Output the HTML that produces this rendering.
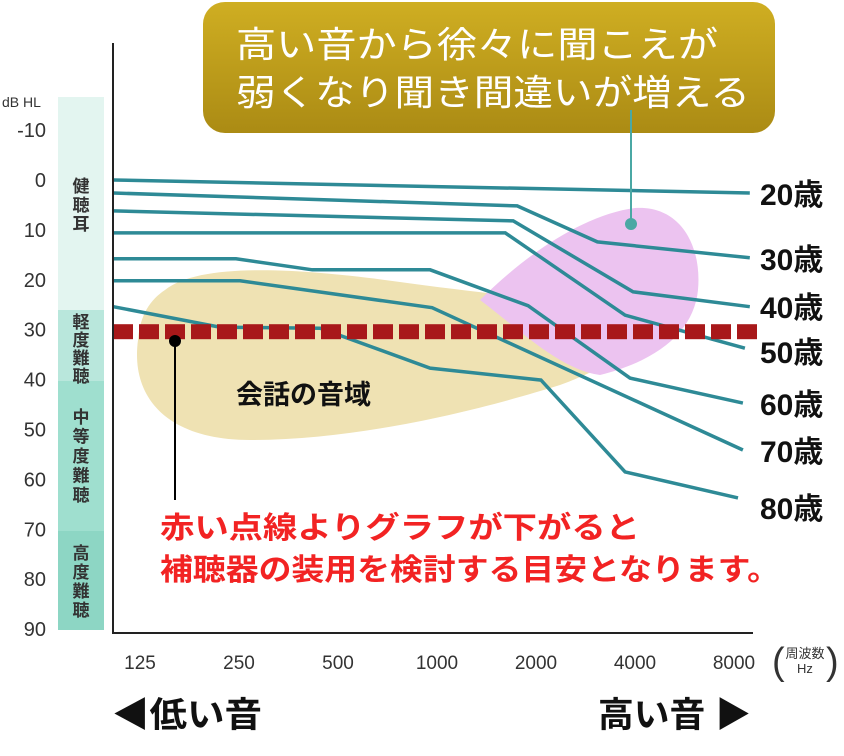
<!DOCTYPE html>
<html><head><meta charset="utf-8"><style>
html,body{margin:0;padding:0;background:#fff;}
body{width:844px;height:751px;overflow:hidden;}
text{font-family:"Liberation Sans","Noto Sans CJK JP",sans-serif;}
</style></head><body>
<svg id="chart" width="844" height="751" viewBox="0 0 844 751" xmlns="http://www.w3.org/2000/svg">
<defs><linearGradient id="gold" x1="0" y1="0" x2="0" y2="1"><stop offset="0" stop-color="#cfae22"/><stop offset="1" stop-color="#ab8b14"/></linearGradient></defs>
<g>
<rect x="58" y="97" width="46" height="213" fill="#e3f5f0"/>
<rect x="58" y="310" width="46" height="71" fill="#b9e7dc"/>
<rect x="58" y="381" width="46" height="150" fill="#9fdfcf"/>
<rect x="58" y="531" width="46" height="99" fill="#8dd6c4"/>
</g>
<g id="bandlabels"></g>
<path d="M165,290 C200,262 300,268 400,282 C470,292 560,300 620,312 C660,325 630,360 560,385 C480,410 360,440 250,440 C170,440 130,400 138,340 C140,315 150,300 165,290 Z" fill="#efe2b3"/>
<path d="M480,300 C520,260 580,215 635,208 C680,205 702,245 698,290 C694,330 660,360 600,375 C560,370 520,330 480,300 Z" fill="#ecc3f0"/>
<text x="236" y="404" font-size="27" font-weight="bold" fill="#111">会話の音域</text>
<g id="yticks"></g>
<text x="2" y="107" font-size="14" fill="#333">dB HL</text>
<g id="xticks"></g>
<g id="lines"></g>
<g id="dash"></g>
<line x1="113" y1="43" x2="113" y2="633" stroke="#222" stroke-width="2"/>
<line x1="112" y1="633" x2="753" y2="633" stroke="#222" stroke-width="2"/>
<circle cx="175" cy="341" r="6" fill="#000"/>
<line x1="175" y1="341" x2="175" y2="500" stroke="#000" stroke-width="2"/>
<text x="160" y="538" font-size="30" font-weight="bold" fill="#f22323" textLength="480" lengthAdjust="spacingAndGlyphs">赤い点線よりグラフが下がると</text>
<text x="160" y="580" font-size="30" font-weight="bold" fill="#f22323" textLength="620" lengthAdjust="spacingAndGlyphs">補聴器の装用を検討する目安となります。</text>
<rect x="203" y="2" width="572" height="131" rx="22" fill="url(#gold)"/>
<text x="236" y="57" font-size="36" fill="#fff" textLength="482" lengthAdjust="spacingAndGlyphs">高い音から徐々に聞こえが</text>
<text x="236" y="105" font-size="36" fill="#fff" textLength="514" lengthAdjust="spacingAndGlyphs">弱くなり聞き間違いが増える</text>
<line x1="631" y1="110" x2="631" y2="224" stroke="#4aa8a4" stroke-width="2"/>
<circle cx="631" cy="224" r="6" fill="#4aa8a4"/>
<text x="805" y="658" font-size="13" fill="#333" text-anchor="middle">周波数</text>
<text x="805" y="673" font-size="13" fill="#333" text-anchor="middle">Hz</text>
<text x="772" y="674" font-size="38" fill="#333">(</text>
<text x="826" y="674" font-size="38" fill="#333">)</text>
<text x="112" y="727" font-size="35" font-weight="bold" fill="#111" textLength="150" lengthAdjust="spacingAndGlyphs">◀低い音</text>
<text x="598" y="727" font-size="35" font-weight="bold" fill="#111" textLength="153" lengthAdjust="spacingAndGlyphs">高い音 ▶</text>
</svg>
<script>
const yTickLabels = ["-10","0","10","20","30","40","50","60","70","80","90"];
const yTickValues = [-10,0,10,20,30,40,50,60,70,80,90];
const xTickLabels = ["125","250","500","1000","2000","4000","8000"];
const ageLabels = ["20歳","30歳","40歳","50歳","60歳","70歳","80歳"];
// octave index (0 = 125Hz) and dB HL per age line
const age20x = [-0.27, 6.16];
const age20y = [0, 2.6];
const age30x = [-0.27, 3.81, 4.62, 6.16];
const age30y = [2.6, 5.2, 12.4, 15.6];
const age40x = [-0.27, 3.77, 4.98, 6.16];
const age40y = [6.2, 8.2, 22.4, 25.4];
const age50x = [-0.27, 3.69, 4.9, 6.11];
const age50y = [10.6, 10.6, 27.1, 33.7];
const age60x = [-0.27, 0.97, 1.74, 2.93, 3.92, 4.95, 6.09];
const age60y = [15.8, 15.8, 18, 18, 25.2, 39.7, 44.7];
const age70x = [-0.27, 1.01, 2.95, 6.09];
const age70y = [20.2, 20.2, 25.6, 54.1];
const age80x = [-0.27, 0.81, 1.82, 2.93, 4.05, 4.9, 6.04];
const age80y = [25.4, 29.5, 29.7, 37.7, 40.1, 58.5, 63.7];
const thresholdDb = 30.3;
const ageLabelY = [193, 258, 306, 351, 403, 450, 507];
const bandTexts = ["健聴耳","軽度難聴","中等度難聴","高度難聴"];
const bandStartY = [186, 322, 417, 553];
const bandStep = [19, 18, 19.5, 19];

const NS = "http://www.w3.org/2000/svg";
const yScale = d => 180 + d * 4.99;
const xScale = i => 140 + i * 99;
function mk(tag, attrs, parent){const e=document.createElementNS(NS,tag);for(const k in attrs)e.setAttribute(k,attrs[k]);parent.appendChild(e);return e;}

const bl = document.getElementById('bandlabels');
bandTexts.forEach((s,k)=>{
  [...s].forEach((ch,j)=>{
    const t = mk('text',{x:81,y:bandStartY[k]+j*bandStep[k]+6,'font-size':17,'font-weight':'bold',fill:'#333','text-anchor':'middle'},bl);
    
    
    t.textContent = ch;
  });
});
const yt = document.getElementById('yticks');
yTickValues.forEach((v,i)=>{
  const t = mk('text',{x:46,y:yScale(v)+7,'font-size':20,fill:'#333','text-anchor':'end'},yt);
  
  
  t.textContent = yTickLabels[i];
});
const xt = document.getElementById('xticks');
xTickLabels.forEach((l,i)=>{
  const t = mk('text',{x:xScale(i),y:669,'font-size':19,fill:'#333','text-anchor':'middle'},xt);
  
  
  t.textContent = l;
});
const lg = document.getElementById('lines');
const xs=[age20x,age30x,age40x,age50x,age60x,age70x,age80x];
const ys=[age20y,age30y,age40y,age50y,age60y,age70y,age80y];
xs.forEach((xa,k)=>{
  const pts = xa.map((x,j)=>xScale(x).toFixed(1)+','+yScale(ys[k][j]).toFixed(1)).join(' ');
  const p = mk('polyline',{points:pts,fill:'none',stroke:'#2e8a96','stroke-width':3.5,'stroke-linejoin':'miter'},lg);
  
  
  const t = mk('text',{x:760,y:ageLabelY[k]+12,'font-size':30,fill:'#111','font-weight':'bold'},lg);
  
  
  t.textContent = ageLabels[k];
});
const dg = document.getElementById('dash');
for(let x=113;x<740;x+=26){
  const r = mk('rect',{x:x,y:yScale(thresholdDb)-7,width:20,height:15,fill:'#a8181a'},dg);
  
  
}
</script>
</body></html>
